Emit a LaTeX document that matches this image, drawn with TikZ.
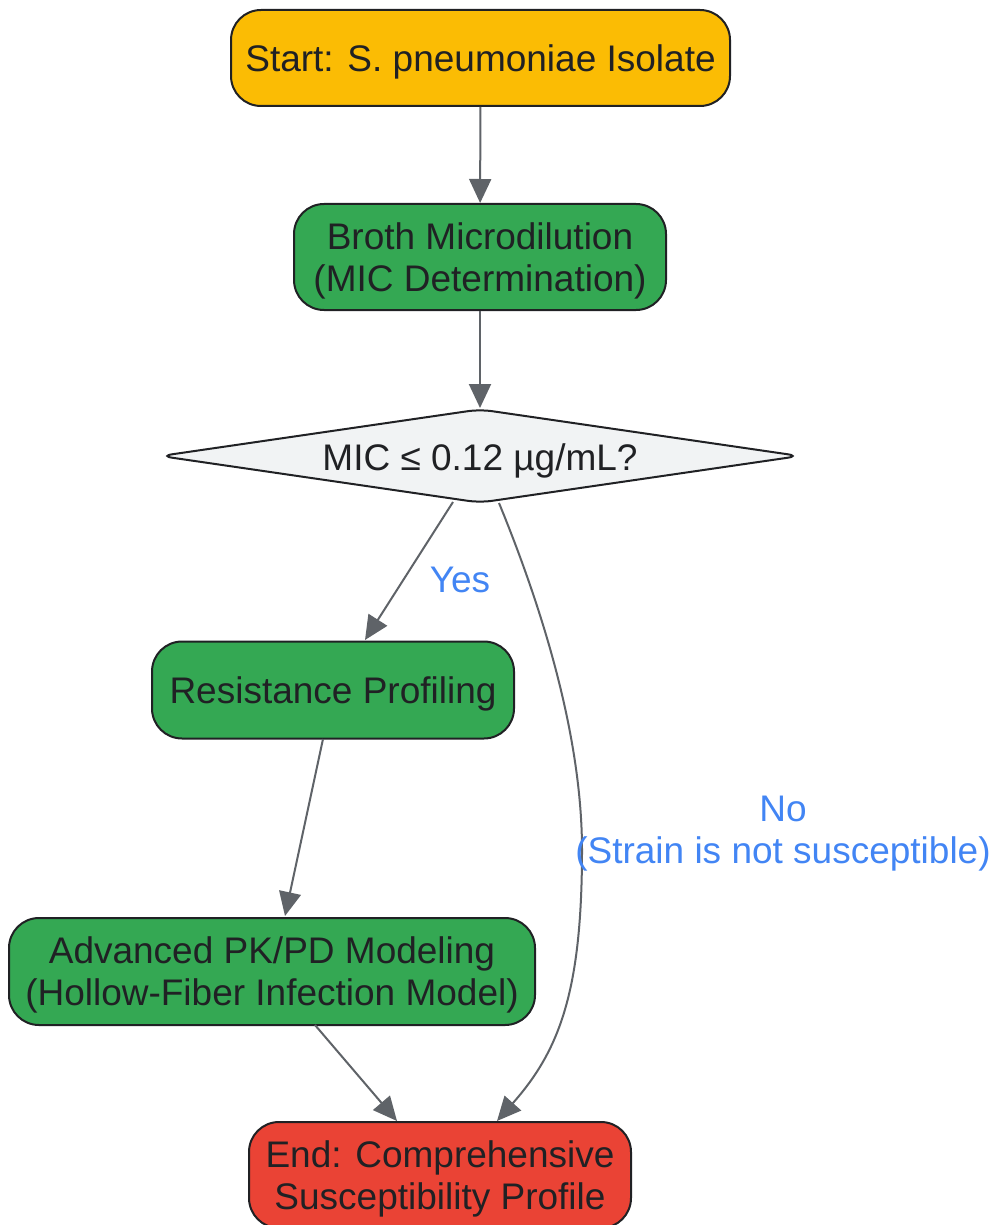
\documentclass[tikz,border=0pt]{standalone}
\usepackage{fontspec}
\setmainfont{Liberation Sans}
\usetikzlibrary{shapes.geometric,arrows.meta,calc}
\definecolor{cyellow}{HTML}{FBBC04}
\definecolor{cgreen}{HTML}{34A853}
\definecolor{cred}{HTML}{EA4335}
\definecolor{cgray}{HTML}{F1F3F4}
\definecolor{ctext}{HTML}{202124}
\definecolor{cedge}{HTML}{5F6368}
\definecolor{clabel}{HTML}{4285F4}
\newcommand{\mytxt}[1]{\raisebox{0pt}[\dimexpr\height+5pt\relax][\depth]{\begin{tabular}{@{}c@{}}#1\end{tabular}}}
\begin{document}
\begin{tikzpicture}[x=0.5pt,y=-0.5pt,
  every node/.style={font=\fontsize{18.5}{21}\selectfont, text=ctext, align=center},
  box/.style={draw=ctext, line width=1pt, rounded corners=15pt, inner sep=0pt},
  decbox/.style={draw=ctext, line width=1pt, shape=diamond, aspect=6.85, rounded corners=6pt, inner sep=0pt, fill=cgray, minimum width=320pt, minimum height=47pt},
  edge/.style={draw=cedge, line width=1pt, -{Triangle[length=12pt,width=11pt]}},
  elabel/.style={text=clabel}]
\useasboundingbox (0,0) rectangle (993,1225);
\clip (0,0) rectangle (993,1225);
\node[box, fill=cyellow, minimum width=249.5pt, minimum height=48pt] (start) at (480.5,58) {\mytxt{Start: S. pneumoniae Isolate}};
\node[box, fill=cgreen, minimum width=186pt, minimum height=53pt] (broth) at (480,257) {\mytxt{Broth Microdilution\\(MIC Determination)}};
\node[decbox] (dec) at (480,456) {};
\node (dectext) at (480,461) {MIC ≤ 0.12 µg/mL?};
\node[box, fill=cgreen, minimum width=181pt, minimum height=48.5pt] (res) at (333,690) {\mytxt{Resistance Profiling}};
\node[box, fill=cgreen, minimum width=263pt, minimum height=53.5pt] (adv) at (272,971.5) {\mytxt{Advanced PK/PD Modeling\\(Hollow-Fiber Infection Model)}};
\node[box, fill=cred, minimum width=191pt, minimum height=53pt] (end) at (440,1175) {\mytxt{End: Comprehensive\\Susceptibility Profile}};
\coordinate (ys) at (453,502);
\coordinate (ns) at (499,503);
\coordinate (nm) at (582,850);
\coordinate (ye) at (365,640);
\coordinate (ne) at (497,1121);
\coordinate (rs) at (323,739);
\coordinate (ae) at (285,916);
\coordinate (as) at (315,1025);
\coordinate (ee) at (397,1121);
\path[edge] (start) -- (broth);
\path[edge] (broth) -- (dec);
\path[edge] (ys) -- (ye);
\path[edge] (ns) .. controls (545,615) and (582,740) .. (nm) .. controls (582,990) and (560,1050) .. (ne);
\path[edge] (rs) -- (ae);
\path[edge] (as) -- (ee);
\node[elabel] (ly) at (460,580) {Yes};
\node[elabel] (ln) at (783,834) {No\\(Strain is not susceptible)};
\end{tikzpicture}
\end{document}
